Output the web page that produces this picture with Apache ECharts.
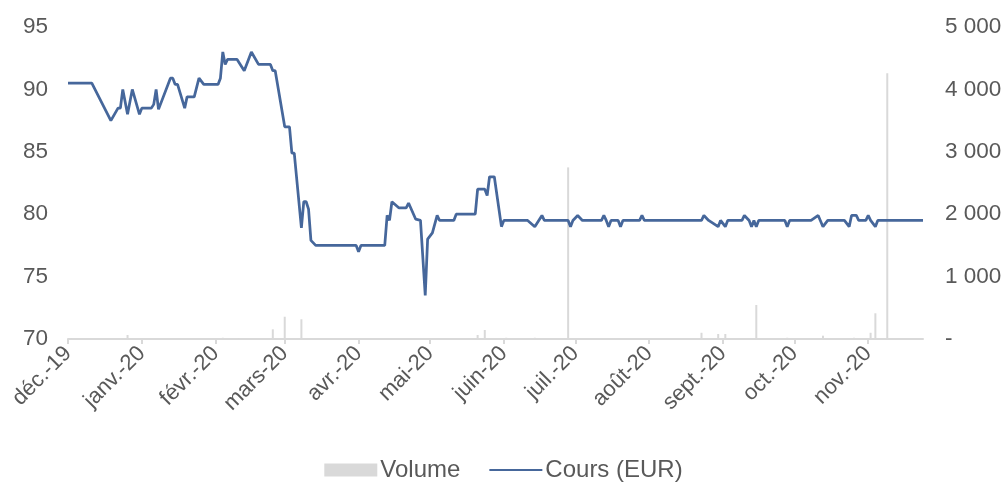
<!DOCTYPE html>
<html>
<head>
<meta charset="utf-8">
<script src="https://cdn.jsdelivr.net/npm/echarts@6/dist/echarts.min.js"></script>
<style>
html,body{margin:0;padding:0;background:#fff;}
#chart{width:1007px;height:483px;}
</style>
</head>
<body>
<div id="chart"></div>
<script>
// ---- data ----
const startDate = '2019-12-02';
const dayCount = 360; // calendar days on the axis (to 2020-11-25)
const monthNames = ['janv.','févr.','mars','avr.','mai','juin','juil.','août','sept.','oct.','nov.','déc.'];

const priceDates = [
 '2019-12-02','2019-12-12','2019-12-20','2019-12-23','2019-12-24','2019-12-25','2019-12-27','2019-12-29',
 '2020-01-01','2020-01-02','2020-01-06','2020-01-07','2020-01-08','2020-01-09','2020-01-14','2020-01-15',
 '2020-01-16','2020-01-17','2020-01-20','2020-01-21','2020-01-24','2020-01-26','2020-01-28',
 '2020-02-03','2020-02-04','2020-02-05','2020-02-06','2020-02-07','2020-02-11','2020-02-14','2020-02-17',
 '2020-02-20','2020-02-25','2020-02-26','2020-02-27',
 '2020-03-02','2020-03-04','2020-03-05','2020-03-06','2020-03-09','2020-03-10','2020-03-11','2020-03-12',
 '2020-03-13','2020-03-15',
 '2020-04-01','2020-04-02','2020-04-03','2020-04-13','2020-04-14','2020-04-15','2020-04-16','2020-04-19',
 '2020-04-22','2020-04-23','2020-04-26','2020-04-28','2020-04-30',
 '2020-05-01','2020-05-03','2020-05-05','2020-05-06','2020-05-12','2020-05-13','2020-05-21','2020-05-22',
 '2020-05-25','2020-05-26','2020-05-27','2020-05-29',
 '2020-06-01','2020-06-02','2020-06-12','2020-06-15','2020-06-18','2020-06-19','2020-06-29','2020-06-30',
 '2020-07-01','2020-07-03','2020-07-05','2020-07-13','2020-07-14','2020-07-15','2020-07-16','2020-07-17',
 '2020-07-20','2020-07-21','2020-07-22','2020-07-29','2020-07-30','2020-07-31',
 '2020-08-24','2020-08-25','2020-08-27','2020-08-31',
 '2020-09-01','2020-09-03','2020-09-04','2020-09-10','2020-09-11','2020-09-13','2020-09-14','2020-09-15',
 '2020-09-16','2020-09-17','2020-09-28','2020-09-29','2020-09-30',
 '2020-10-09','2020-10-12','2020-10-14','2020-10-16','2020-10-23','2020-10-25','2020-10-26','2020-10-28',
 '2020-10-29',
 '2020-11-01','2020-11-02','2020-11-03','2020-11-05','2020-11-06','2020-11-25'
];
const priceValues = [
 90.5,90.5,87.5,88.5,88.5,90,88,90,
 88,88.5,88.5,88.8,90,88.4,90.9,90.9,
 90.4,90.4,88.5,89.4,89.4,90.9,90.4,
 90.4,90.9,93,92,92.4,92.4,91.5,93,
 92,92,91.5,91.5,
 87,87,84.9,84.9,78.9,81,81,80.4,
 77.9,77.5,
 77.5,77,77.5,77.5,79.9,79.5,81,80.5,
 80.5,80.9,79.6,79.5,73.5,
 78,78.5,79.9,79.5,79.5,80,80,82,
 82,81.5,83,83,
 79,79.5,79.5,79,79.9,79.5,79.5,79,
 79.5,79.9,79.5,79.5,79.9,79.5,79,79.5,
 79.5,79,79.5,79.5,79.9,79.5,
 79.5,79.9,79.5,79,
 79.5,79,79.5,79.5,79.9,79.5,79,79.5,
 79,79.5,79.5,79,79.5,
 79.5,79.9,79,79.5,79.5,79,79.9,79.9,
 79.5,
 79.5,79.9,79.5,79,79.5,79.5
];

const volumeDates = [
 '2019-12-03','2019-12-05','2019-12-27','2020-02-05','2020-02-12','2020-02-26','2020-03-02','2020-03-09',
 '2020-04-16','2020-04-30','2020-05-22','2020-05-25','2020-06-03','2020-06-15','2020-06-29','2020-08-24',
 '2020-08-31','2020-09-03','2020-09-16','2020-09-29','2020-10-14','2020-10-27','2020-11-03','2020-11-05',
 '2020-11-10'
];
const volumeValues = [
 15,15,64,20,15,155,357,316,
 15,15,64,144,20,20,2750,100,
 80,80,545,20,53,20,100,412,
 4260
];

const leftTicks = {min:70, max:95, interval:5};
const rightTicks = {min:0, max:5000, interval:1000};

// ---- build ----
function pad(n){return n<10?'0'+n:''+n;}
const categories = [];
const d0 = new Date(startDate + 'T00:00:00Z');
for (let i = 0; i < dayCount; i++) {
  const d = new Date(d0.getTime() + i*86400000);
  categories.push(d.getUTCFullYear()+'-'+pad(d.getUTCMonth()+1)+'-'+pad(d.getUTCDate()));
}
const idx = {};
categories.forEach((c,i)=>{idx[c]=i;});
const priceSeries = new Array(dayCount).fill(null);
priceDates.forEach((d,i)=>{priceSeries[idx[d]] = priceValues[i];});
const volumeSeries = new Array(dayCount).fill(null);
volumeDates.forEach((d,i)=>{volumeSeries[idx[d]] = volumeValues[i];});

function isTick(i, v){ return v.slice(8,10) === '02'; }
function monthLabel(v){
  const m = parseInt(v.slice(5,7),10)-1;
  return monthNames[m] + '-' + v.slice(2,4);
}

const FONT = "'Liberation Sans', Arial, sans-serif";
const TXT = '#595959';
const LINE = '#46679b';

const chart = echarts.init(document.getElementById('chart'), null, {renderer:'canvas'});
chart.setOption({
  animation:false,
  grid:{left:68, right:84, top:27, bottom:144, containLabel:false},
  legend:{
    bottom:-4, left:'center',
    itemWidth:53, itemHeight:13, itemGap:28,
    textStyle:{fontFamily:FONT, fontSize:24, color:TXT, padding:[0,0,0,-2]},
    data:[{name:'Volume', icon:'rect'}, {name:'Cours (EUR)'}]
  },
  xAxis:{
    type:'category', data:categories, boundaryGap:false,
    axisLine:{show:true, lineStyle:{color:'#d9d9d9', width:2}},
    axisTick:{show:true, interval:isTick, length:5, lineStyle:{color:'#d9d9d9', width:2}},
    axisLabel:{interval:isTick, rotate:45, margin:11, formatter:monthLabel,
      fontFamily:FONT, fontSize:22, color:TXT},
    splitLine:{show:false}
  },
  yAxis:[
    {type:'value', min:leftTicks.min, max:leftTicks.max, interval:leftTicks.interval,
     axisLine:{show:false}, axisTick:{show:false}, splitLine:{show:false},
     axisLabel:{margin:20, fontFamily:FONT, fontSize:22.5, color:TXT}},
    {type:'value', position:'right', min:rightTicks.min, max:rightTicks.max, interval:rightTicks.interval,
     axisLine:{show:false}, axisTick:{show:false}, splitLine:{show:false},
     axisLabel:{margin:22, fontFamily:FONT, fontSize:22.5, color:TXT,
       formatter:function(v){ return v===0 ? '-' : String(v).replace(/\B(?=(\d{3})+(?!\d))/g,' '); }}}
  ],
  series:[
    {name:'Volume', type:'bar', yAxisIndex:1, data:volumeSeries, barWidth:2,
     itemStyle:{color:'#d9d9d9'}, z:1},
    {name:'Cours (EUR)', type:'line', yAxisIndex:0, data:priceSeries, connectNulls:true,
     symbol:'line', showSymbol:false,
     lineStyle:{color:LINE, width:2.75}, itemStyle:{color:LINE, borderColor:LINE}, z:3}
  ]
});
</script>
</body>
</html>
